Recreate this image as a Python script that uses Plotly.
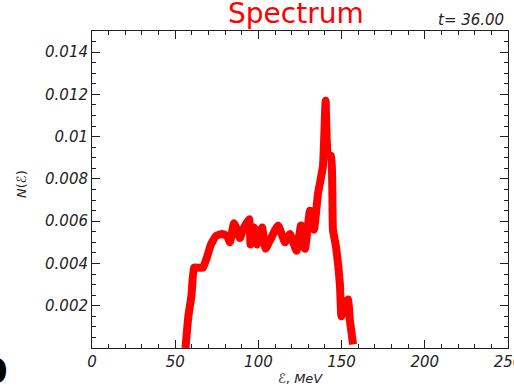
import plotly.graph_objects as go

energy = [56.2, 57.9, 59.8, 61.3, 63.7, 66.7, 69.1, 71.5, 74.5, 78.1, 81.1, 82.9,
          85.3, 87.1, 88.9, 90.7, 94.4, 95.3, 97.4, 99.2, 102.2, 104.3, 107.0,
          111.8, 116.0, 119.0, 122.9, 125.6, 128.0, 131.0, 133.4, 135.8, 138.8,
          140.4, 141.8, 143.6, 144.8, 146.6, 149.0, 149.9, 152.0, 153.8, 155.0, 156.9]
spectrum = [0.0000, 0.0015, 0.0025, 0.0038, 0.0038, 0.0038, 0.0043, 0.0049, 0.0053,
            0.0054, 0.0053, 0.0050, 0.0059, 0.0056, 0.0052, 0.0056, 0.0061, 0.0049,
            0.0057, 0.0049, 0.0057, 0.0047, 0.0051, 0.0058, 0.0050, 0.0054, 0.0046,
            0.0058, 0.0047, 0.0065, 0.0056, 0.0073, 0.0086, 0.0117, 0.0091, 0.0091,
            0.0056, 0.0048, 0.0030, 0.0015, 0.0021, 0.0023, 0.0013, 0.00017]

x_ticks = [0, 50, 100, 150, 200, 250]
y_ticks = [0.002, 0.004, 0.006, 0.008, 0.010, 0.012, 0.014]
y_tick_text = ["0.002", "0.004", "0.006", "0.008", "0.01", "0.012", "0.014"]

fig = go.Figure()
fig.add_trace(go.Scatter(x=energy, y=spectrum, mode="lines",
                         line=dict(color="#ff0000", width=8, shape="spline", smoothing=0.4),
                         showlegend=False, cliponaxis=True))

tickfont = dict(family="DejaVu Sans", size=15, color="#222", style="italic")
axis_common = dict(showgrid=False, zeroline=False, showline=True, linecolor="#222",
                   linewidth=1, mirror="allticks", ticks="inside", ticklen=8,
                   tickcolor="#222", tickfont=tickfont, automargin=False,
                   ticklabeloverflow="allow")

fig.update_xaxes(range=[0, 250], tickvals=x_ticks, ticktext=[str(v) for v in x_ticks],
                 minor=dict(dtick=10, ticks="inside", ticklen=4, tickcolor="#222"),
                 **axis_common)
fig.update_yaxes(range=[0, 0.015], tickvals=y_ticks, ticktext=y_tick_text,
                 minor=dict(dtick=0.0005, tick0=0, ticks="inside", ticklen=4, tickcolor="#222"),
                 **axis_common)

labfont = dict(family="DejaVu Sans", size=13, color="#222")
fig.add_annotation(text="ℰ, <i>MeV</i>", xref="paper", yref="paper", x=0, y=0,
                   xshift=300 - 92, yshift=-(378 - 348), xanchor="center", yanchor="middle",
                   showarrow=False, font=labfont)
fig.add_annotation(text="<i>N</i>(ℰ)", xref="paper", yref="paper", x=0, y=0,
                   xshift=21 - 92, yshift=348 - 184, xanchor="center", yanchor="middle",
                   textangle=-90, showarrow=False, font=labfont)

fig.add_annotation(text="Spectrum", xref="paper", yref="paper", x=0.5, y=1.0, yshift=18,
                   xshift=-4, xanchor="center", yanchor="middle", showarrow=False,
                   font=dict(family="DejaVu Sans", size=28, color="#ff0000"))
fig.add_annotation(text="t= 36.00", xref="paper", yref="paper", x=1.0, y=1.0, yshift=11,
                   xshift=-2, xanchor="right", yanchor="middle", showarrow=False,
                   font=dict(family="DejaVu Sans", size=15, color="#222", style="italic"))
fig.add_annotation(text="<b>0</b>", xref="paper", yref="paper", x=0, y=0, xshift=10 - 92,
                   yshift=-23, xanchor="right", yanchor="middle", showarrow=False,
                   font=dict(family="DejaVu Sans", size=34, color="#000"))

fig.update_layout(width=514, height=387, margin=dict(l=92, r=6, t=31, b=39),
                  paper_bgcolor="white", plot_bgcolor="white")
fig.write_html("out.html", config={"displayModeBar": False},
               post_script="document.body.style.margin='0';")
